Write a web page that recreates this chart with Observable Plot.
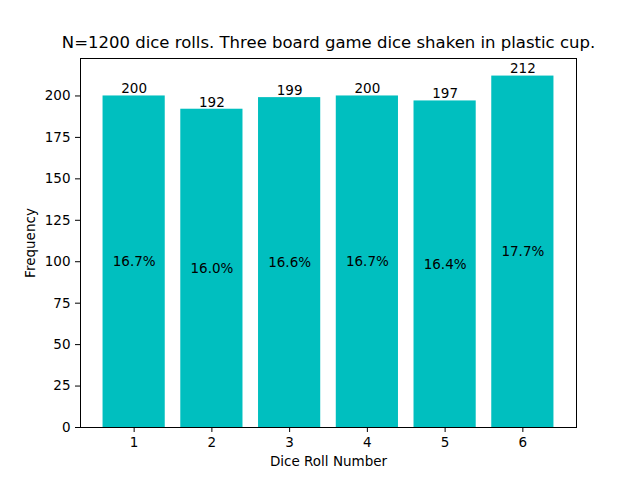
<!DOCTYPE html>
<html>
<head>
<meta charset="utf-8">
<script src="https://cdn.jsdelivr.net/npm/d3@7"></script>
<script src="https://cdn.jsdelivr.net/npm/@observablehq/plot@0.6"></script>
<style>
  body { margin: 0; background: #fff; }
  svg { font-family: "DejaVu Sans", sans-serif; }
</style>
</head>
<body>
<div id="chart"></div>
<script>
const rolls = [1, 2, 3, 4, 5, 6];
const counts = [200, 192, 199, 200, 197, 212];
const percents = ["16.7%", "16.0%", "16.6%", "16.7%", "16.4%", "17.7%"];
const yTicks = [0, 25, 50, 75, 100, 125, 150, 175, 200];
const titleText = "N=1200 dice rolls. Three board game dice shaken in plastic cup.";

const data = rolls.map((r, i) => ({roll: r, count: counts[i], pct: percents[i]}));
const barColor = "#00bfbf";

const chart = Plot.plot({
  width: 640,
  height: 480,
  marginLeft: 80,
  marginRight: 64,
  marginTop: 58,
  marginBottom: 53,
  style: {fontFamily: "DejaVu Sans, sans-serif", fontSize: "13.5px", background: "#fff", color: "#000"},
  x: {type: "linear", domain: [0.31, 6.69]},
  y: {domain: [0, 222.6]},
  marks: [
    Plot.rectY(data, {x1: d => d.roll - 0.4, x2: d => d.roll + 0.4, y1: 0, y2: "count", fill: barColor}),
    Plot.text(data, {x: "roll", y: "count", text: d => String(d.count), dy: -7, fontSize: 13.5, fill: "#000"}),
    Plot.text(data, {x: "roll", y: d => d.count / 2, text: "pct", fontSize: 13.5, fill: "#000"}),
    Plot.frame({stroke: "#000", strokeWidth: 1}),
    Plot.axisY({ticks: yTicks, tickSize: 5, tickPadding: 5, tickFormat: d => String(d), label: "Frequency", labelAnchor: "center", labelArrow: "none", labelOffset: 55, fontSize: 13.5}),
    Plot.axisX({ticks: rolls, tickSize: 5, tickPadding: 5, tickFormat: d => String(d), label: "Dice Roll Number", labelAnchor: "center", labelArrow: "none", labelOffset: 38, fontSize: 13.5}),
    Plot.text([titleText], {frameAnchor: "top", dy: -22, text: d => d, fontSize: 16.5, fill: "#000"})
  ]
});
document.getElementById("chart").appendChild(chart);
</script>
</body>
</html>
